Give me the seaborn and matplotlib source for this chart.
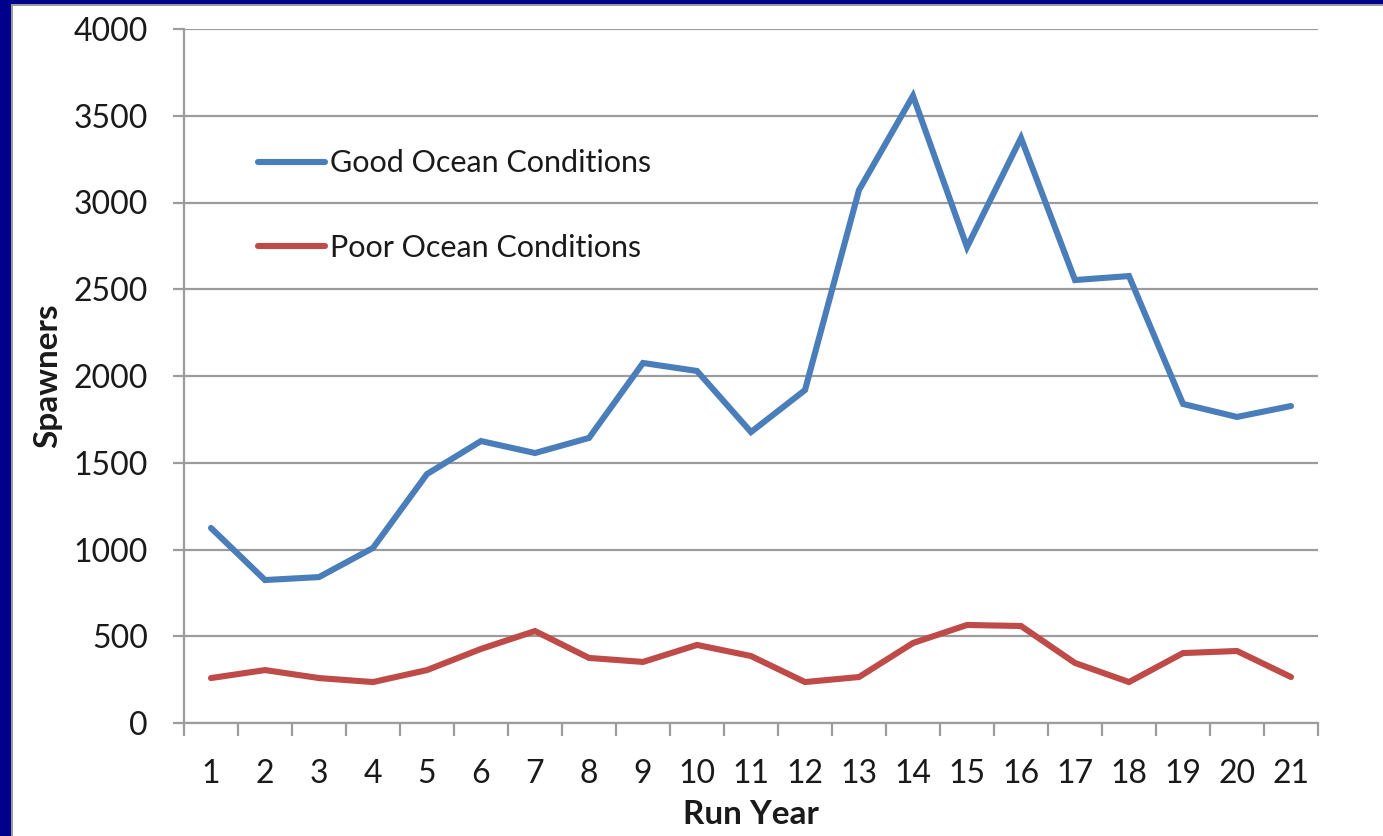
import matplotlib
matplotlib.use("Agg")
import matplotlib.pyplot as plt
from matplotlib.patches import Rectangle
from matplotlib.lines import Line2D
from matplotlib.ticker import FixedLocator, MultipleLocator
import numpy as np
import pandas as pd
import seaborn as sns

# Spawner abundance by run year under two ocean scenarios
run_years = list(range(1, 22))
good_ocean = [1124, 824, 841, 1009, 1435, 1625, 1556, 1643, 2075, 2029, 1677,
              1919, 3072, 3615, 2743, 3372, 2553, 2576, 1839, 1764, 1827]
poor_ocean = [259, 305, 259, 236, 305, 427, 530, 375, 352, 450, 386,
              236, 265, 461, 565, 559, 346, 236, 403, 415, 265]
series_names = ["Good Ocean Conditions", "Poor Ocean Conditions"]
series_colors = ["#4A7EBB", "#BE4B48"]

df = pd.DataFrame({
    "Run Year": run_years * 2,
    "Spawners": good_ocean + poor_ocean,
    "Scenario": [series_names[0]] * len(run_years) + [series_names[1]] * len(run_years),
})

sns.set_theme(style="white")
plt.rcParams["font.family"] = ["Lato", "DejaVu Sans"]

fig = plt.figure(figsize=(13.83, 8.36), dpi=100)
fig.patch.set_facecolor("white")

# slide frame: navy band on top and left with a thin gray edge
navy = "#00008C"
fig.add_artist(Rectangle((0, 0), 11 / 1383, 1, transform=fig.transFigure,
                         facecolor=navy, edgecolor="none", zorder=0))
fig.add_artist(Rectangle((11 / 1383, 0), 2 / 1383, 1 - 4 / 836, transform=fig.transFigure,
                         facecolor="#9A9A9A", edgecolor="none", zorder=0))
fig.add_artist(Rectangle((0, 1 - 4 / 836), 1, 4 / 836, transform=fig.transFigure,
                         facecolor=navy, edgecolor="none", zorder=0))
fig.add_artist(Rectangle((11 / 1383, 1 - 6 / 836), 1, 2 / 836, transform=fig.transFigure,
                         facecolor="#9A9A9A", edgecolor="none", zorder=0))

ax = fig.add_axes([184 / 1383, 1 - 723 / 836, (1318 - 184) / 1383, (723 - 29) / 836])
ax.set_facecolor("white")

sns.lineplot(data=df, x="Run Year", y="Spawners", hue="Scenario",
             palette=series_colors, linewidth=4.4, ax=ax, legend=False,
             solid_capstyle="round", solid_joinstyle="miter")

ax.set_xlim(0.5, 21.5)
ax.set_ylim(0, 4000)
ax.yaxis.set_major_locator(MultipleLocator(500))
ax.set_xticks(run_years)
ax.set_xticklabels([str(y) for y in run_years])
ax.xaxis.set_minor_locator(FixedLocator(np.arange(0.5, 22, 1)))

grid_gray = "#9C9C9C"
ax.grid(axis="y", color=grid_gray, linewidth=1.6)
ax.grid(axis="x", visible=False)
ax.set_axisbelow(True)
for side in ["top", "right"]:
    ax.spines[side].set_visible(False)
for side in ["left", "bottom"]:
    ax.spines[side].set_color(grid_gray)
    ax.spines[side].set_linewidth(1.6)

ax.tick_params(axis="y", which="major", length=8, width=1.6, color=grid_gray,
               pad=18, labelsize=23, labelcolor="#1a1a1a", left=True)
ax.tick_params(axis="x", which="major", length=0, pad=26, labelsize=23,
               labelcolor="#1a1a1a")
ax.tick_params(axis="x", which="minor", length=9, width=1.6, color=grid_gray,
               direction="out", bottom=True)

ax.set_xlabel("Run Year", fontsize=24, fontweight="bold", color="#1a1a1a", labelpad=8)
ax.set_ylabel("Spawners", fontsize=24, fontweight="bold", color="#1a1a1a", labelpad=8)

handles = [Line2D([], [], color=c, linewidth=4.4, solid_capstyle="round") for c in series_colors]
leg = ax.legend(handles, series_names, loc="upper left",
                bbox_to_anchor=(62 / 1134, 1 - 108 / 694), frameon=False,
                fontsize=22, handlelength=2.2, handletextpad=0.15,
                labelspacing=1.85, borderaxespad=0)
for t in leg.get_texts():
    t.set_color("#1a1a1a")

fig.savefig("out.png", dpi=100, facecolor=fig.get_facecolor())
